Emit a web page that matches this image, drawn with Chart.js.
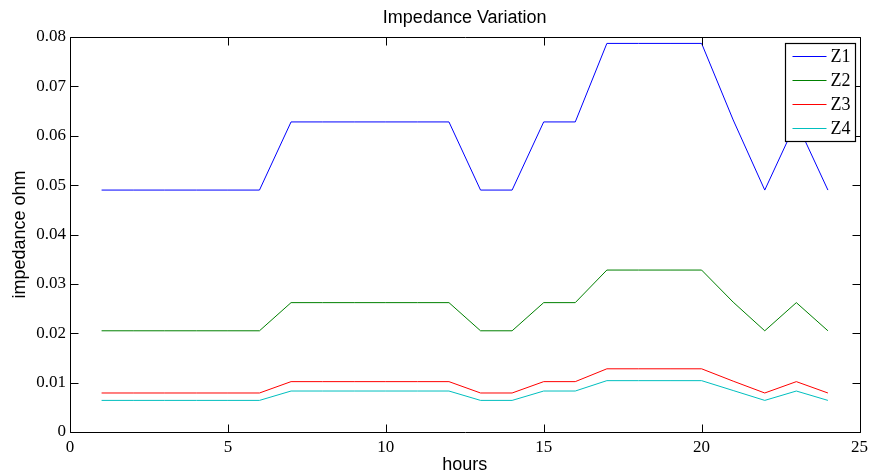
<!DOCTYPE html>
<html>
<head>
<meta charset="utf-8">
<style>
  html, body { margin: 0; padding: 0; background: #ffffff; }
  #wrap { width: 873px; height: 475px; }
</style>
<script src="https://cdn.jsdelivr.net/npm/chart.js@4/dist/chart.umd.min.js"></script>
</head>
<body>
<div id="wrap"><canvas id="chart" width="873" height="475"></canvas></div>
<script>
// Hourly impedance of four lines
const hours = [1, 2, 3, 4, 5, 6, 7, 8, 9, 10, 11, 12, 13, 14, 15, 16, 17, 18, 19, 20, 21, 22, 23, 24];
const z1 = [0.049, 0.049, 0.049, 0.049, 0.049, 0.049, 0.0628, 0.0628, 0.0628, 0.0628, 0.0628, 0.0628,
            0.049, 0.049, 0.0628, 0.0628, 0.0787, 0.0787, 0.0787, 0.0787, 0.0632, 0.049, 0.0628, 0.049];
const z2 = [0.0205, 0.0205, 0.0205, 0.0205, 0.0205, 0.0205, 0.0262, 0.0262, 0.0262, 0.0262, 0.0262, 0.0262,
            0.0205, 0.0205, 0.0262, 0.0262, 0.0328, 0.0328, 0.0328, 0.0328, 0.0263, 0.0205, 0.0262, 0.0205];
const z3 = [0.0079, 0.0079, 0.0079, 0.0079, 0.0079, 0.0079, 0.0102, 0.0102, 0.0102, 0.0102, 0.0102, 0.0102,
            0.0079, 0.0079, 0.0102, 0.0102, 0.0128, 0.0128, 0.0128, 0.0128, 0.0103, 0.0079, 0.0102, 0.0079];
const z4 = [0.0064, 0.0064, 0.0064, 0.0064, 0.0064, 0.0064, 0.0083, 0.0083, 0.0083, 0.0083, 0.0083, 0.0083,
            0.0064, 0.0064, 0.0083, 0.0083, 0.0104, 0.0104, 0.0104, 0.0104, 0.0084, 0.0064, 0.0083, 0.0064];
const seriesNames = ['Z1', 'Z2', 'Z3', 'Z4'];
const seriesColors = ['#0000ff', '#008000', '#ff0000', '#00bfbf'];
const xTicks = [0, 5, 10, 15, 20, 25];
const yTicks = [0, 0.01, 0.02, 0.03, 0.04, 0.05, 0.06, 0.07, 0.08];

const chartTitle = 'Impedance Variation';
const xTitle = 'hours';
const yTitle = 'impedance ohm';

const tickFont = { family: '"Liberation Serif", "Times New Roman", serif', size: 17 };
const labelFont = { family: '"Liberation Sans", Arial, sans-serif', size: 18 };

function toPoints(values) {
  return hours.map((h, i) => ({ x: h, y: values[i] }));
}

const datasets = [z1, z2, z3, z4].map((vals, i) => ({
  label: seriesNames[i],
  data: toPoints(vals),
  borderColor: seriesColors[i],
  backgroundColor: seriesColors[i],
  borderWidth: 1,
  pointRadius: 0,
  tension: 0,
  fill: false
}));

// Box frame, inward ticks on all four sides, title and inset legend
const framePlugin = {
  id: 'frame',
  afterDraw(chart) {
    const { ctx, chartArea: a, scales } = chart;
    const L = Math.round(a.left) + 0.5, R = Math.round(a.right) + 0.5;
    const T = Math.round(a.top) + 0.5, B = Math.round(a.bottom) + 0.5;
    const tl = 8;
    ctx.save();
    ctx.strokeStyle = '#000000';
    ctx.lineWidth = 1;
    ctx.beginPath();
    ctx.rect(L, T, R - L, B - T);
    ctx.stroke();

    ctx.beginPath();
    xTicks.forEach(v => {
      const x = Math.round(scales.x.getPixelForValue(v)) + 0.5;
      ctx.moveTo(x, B); ctx.lineTo(x, B - tl);
      ctx.moveTo(x, T); ctx.lineTo(x, T + tl);
    });
    yTicks.forEach(v => {
      const y = Math.round(scales.y.getPixelForValue(v)) + 0.5;
      ctx.moveTo(L, y); ctx.lineTo(L + tl, y);
      ctx.moveTo(R, y); ctx.lineTo(R - tl, y);
    });
    ctx.stroke();

    // title centred over the plot area
    ctx.fillStyle = '#000000';
    ctx.font = '18px ' + labelFont.family;
    ctx.textAlign = 'center';
    ctx.textBaseline = 'middle';
    ctx.fillText(chartTitle, (a.left + a.right) / 2, 18);

    // legend box in the upper right corner
    const bw = 70, bh = 98;
    const bx = Math.round(a.right) - 5 - bw + 0.5;
    const by = Math.round(a.top) + 6 + 0.5;
    ctx.fillStyle = '#ffffff';
    ctx.fillRect(bx, by, bw, bh);
    ctx.strokeStyle = '#000000';
    ctx.lineWidth = 1.2;
    ctx.strokeRect(bx, by, bw, bh);
    ctx.font = '18px ' + tickFont.family;
    ctx.textAlign = 'left';
    chart.data.datasets.forEach((ds, i) => {
      const y = by + 13 + i * 24;
      ctx.strokeStyle = ds.borderColor;
      ctx.lineWidth = 1;
      ctx.beginPath();
      ctx.moveTo(bx + 7, y);
      ctx.lineTo(bx + 41, y);
      ctx.stroke();
      ctx.fillStyle = '#000000';
      ctx.fillText(ds.label, bx + 45, y + 1);
    });
    ctx.restore();
  }
};

const bgPlugin = {
  id: 'bg',
  beforeDraw(chart) {
    const ctx = chart.ctx;
    ctx.save();
    ctx.fillStyle = '#ffffff';
    ctx.fillRect(0, 0, chart.width, chart.height);
    ctx.restore();
  }
};

new Chart(document.getElementById('chart'), {
  type: 'line',
  data: { datasets },
  options: {
    responsive: false,
    animation: false,
    layout: { padding: { top: 37, right: 10, bottom: 0, left: 0 } },
    plugins: {
      legend: { display: false },
      title: { display: false },
      tooltip: { enabled: false }
    },
    scales: {
      x: {
        type: 'linear',
        min: 0,
        max: 25,
        afterFit(scale) { scale.height = 43; },
        afterBuildTicks(scale) { scale.ticks = xTicks.map(v => ({ value: v })); },
        grid: { display: false, drawTicks: false },
        border: { display: false },
        ticks: {
          color: '#000000',
          font: tickFont,
          padding: 5,
          maxRotation: 0,
          autoSkip: false,
          callback: v => String(v)
        },
        title: {
          display: true,
          text: xTitle,
          color: '#000000',
          font: labelFont,
          padding: { top: 0, bottom: -1 }
        }
      },
      y: {
        type: 'linear',
        min: 0,
        max: 0.08,
        afterFit(scale) { scale.width = 70; },
        afterBuildTicks(scale) { scale.ticks = yTicks.map(v => ({ value: v })); },
        grid: { display: false, drawTicks: false },
        border: { display: false },
        ticks: {
          color: '#000000',
          font: tickFont,
          padding: 4,
          autoSkip: false,
          callback: v => (v === 0 ? '0' : v.toFixed(2))
        },
        title: {
          display: true,
          text: yTitle,
          color: '#000000',
          font: labelFont,
          padding: { top: 9, bottom: 0 }
        }
      }
    }
  },
  plugins: [bgPlugin, framePlugin]
});
</script>
</body>
</html>
